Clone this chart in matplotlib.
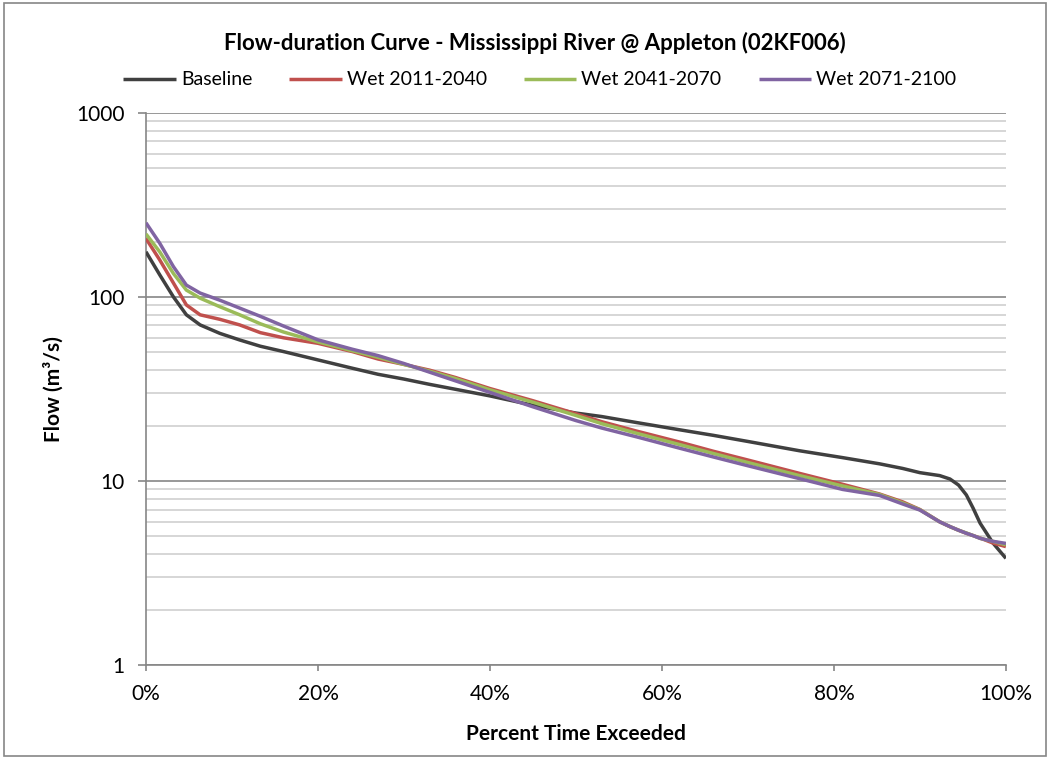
import matplotlib
matplotlib.use("Agg")
import matplotlib.pyplot as plt
from matplotlib.ticker import FixedLocator, NullFormatter, FuncFormatter

plt.rcParams['font.family'] = ['Lato', 'DejaVu Sans']

# percent of time exceeded
pct = [0, 1.6, 3.2, 4.7, 6.3, 8.6, 10.9, 13.3, 16, 20, 24, 27, 30, 33, 36, 40,
       45, 50, 53, 57, 62, 66, 70, 76, 81, 85.3, 88, 90, 92.3, 93.5, 94.5,
       95.4, 96.2, 97, 98.5, 100]

baseline = [176, 132, 100, 80, 70.5, 63.4, 58.4, 54, 50.5, 45.5, 41, 38, 35.8,
            33.5, 31.5, 29, 25.8, 23.4, 22.4, 20.8, 19.0, 17.7, 16.4, 14.6,
            13.4, 12.4, 11.7, 11.1, 10.7, 10.25, 9.5, 8.4, 7.1, 5.9, 4.6, 3.8]
wet_2011 = [208, 159, 119, 90.5, 80, 75.6, 70.5, 64, 60, 56, 50.5, 46, 43,
            40, 36.5, 31.8, 27.3, 23.2, 21, 18.7, 16.3, 14.5, 13.0, 11.0, 9.6,
            8.5, 7.7, 7.0, 6.0, 5.65, 5.4, 5.2, 5.05, 4.9, 4.6, 4.4]
wet_2041 = [220, 176, 134, 109, 98.5, 88.5, 80, 71.5, 64.5, 57, 51, 47, 43,
            39.5, 36, 31.3, 26.8, 22.7, 20.5, 18.2, 15.8, 14.1, 12.6, 10.7, 9.4,
            8.45, 7.6, 6.98, 6.0, 5.65, 5.4, 5.22, 5.05, 4.88, 4.7, 4.5]
wet_2071 = [253, 196, 146, 116, 105, 96, 87, 78.5, 69.5, 58.5, 52, 48, 43.5,
            39, 35, 30.3, 25.3, 21.3, 19.4, 17.4, 15.1, 13.5, 12.1, 10.3, 9.0,
            8.35, 7.5, 6.95, 6.0, 5.65, 5.4, 5.2, 5.05, 4.88, 4.7, 4.58]

series = [
    ("Baseline", baseline, "#404040"),
    ("Wet 2011-2040", wet_2011, "#C0504D"),
    ("Wet 2041-2070", wet_2041, "#9BBB59"),
    ("Wet 2071-2100", wet_2071, "#8064A2"),
]

fig = plt.figure(figsize=(10.5, 7.59), dpi=100)
ax = fig.add_axes([0.139, 0.1238, 0.819, 0.7274])

for name, vals, col in series:
    ax.plot(pct, vals, color=col, lw=2.5, label=name, solid_capstyle='butt',
            solid_joinstyle='round', zorder=3)

ax.set_yscale('log')
ax.set_ylim(1, 1000)
ax.set_xlim(0, 100)

minor = [m * 10 ** e for e in range(0, 3) for m in range(2, 10)]
ax.yaxis.set_minor_locator(FixedLocator(minor))
ax.yaxis.set_minor_formatter(NullFormatter())
ax.yaxis.set_major_locator(FixedLocator([1, 10, 100, 1000]))
ax.yaxis.set_major_formatter(FuncFormatter(lambda v, p: f"{v:g}"))
ax.set_xticks([0, 20, 40, 60, 80, 100])
ax.xaxis.set_major_formatter(FuncFormatter(lambda v, p: f"{v:.0f}%"))

ax.grid(True, which='major', axis='y', color='#868686', lw=1.2, zorder=1)
ax.grid(True, which='minor', axis='y', color='#CFCFCF', lw=1.2, zorder=1)

for s in ['top', 'right']:
    ax.spines[s].set_visible(False)
for s in ['left', 'bottom']:
    ax.spines[s].set_color('#868686')
    ax.spines[s].set_linewidth(1.2)

ax.tick_params(axis='y', which='major', length=5.5, width=1.2, color='#868686',
               labelsize=15, pad=10)
ax.tick_params(axis='y', which='minor', length=0)
ax.tick_params(axis='x', which='major', length=4, width=1.2, color='#868686',
               labelsize=15, pad=10)

ax.set_xlabel("Percent Time Exceeded", fontsize=15, fontweight='bold', labelpad=14)
ax.set_ylabel("Flow (m³/s)", fontsize=15, fontweight='bold', labelpad=9)

fig.text(0.5095, 0.943, "Flow-duration Curve - Mississippi River @ Appleton (02KF006)",
         ha='center', va='center', fontsize=16, fontweight='bold')

ax.legend(loc='center', bbox_to_anchor=(0.458, 1.06), ncol=4, frameon=False,
          fontsize=14, handlelength=2.7, handletextpad=0.26, columnspacing=1.9,
          borderaxespad=0, borderpad=0)

# outer chart border
fig.patches.append(plt.Rectangle((0.004, 0.004), 0.992, 0.992, transform=fig.transFigure,
                                 fill=False, edgecolor='#868686', lw=1.2))

fig.savefig("out.png", dpi=100, facecolor='white')
